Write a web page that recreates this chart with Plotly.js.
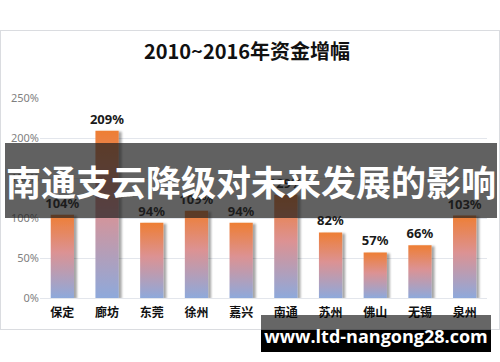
<!DOCTYPE html>
<html><head><meta charset="utf-8">
<script src="https://cdn.plot.ly/plotly-3.0.1.min.js"></script>
<style>
html,body{margin:0;padding:0;background:#fff;}
#wrap{position:relative;width:500px;height:362px;overflow:hidden;}
#frame{position:absolute;left:0;top:30px;width:500px;height:300px;box-sizing:border-box;border:1px solid #DADCE0;}
#chart{position:absolute;left:0;top:0;width:500px;height:362px;}
#banner{position:absolute;left:5px;top:143px;width:492px;height:75px;background:rgba(30,30,30,0.7);color:#fff;font-family:"Noto Sans CJK SC";font-weight:bold;font-size:35px;line-height:75px;text-align:center;white-space:nowrap;letter-spacing:0px;}
#wm{position:absolute;left:261px;top:315px;width:230px;height:37px;background:linear-gradient(to bottom,rgba(0,0,0,0.6) 0px,rgba(0,0,0,0.6) 15px,#000 15px,#000 37px);color:#fff;font-family:"Open Sans";font-weight:bold;font-size:18px;line-height:37px;text-align:center;white-space:nowrap;padding-top:3px;box-sizing:border-box;}
</style></head>
<body>
<div id="wrap">
  <div id="frame"></div>
  <div id="chart"></div>
  <div id="banner">南通支云降级对未来发展的影响</div>
  <div id="wm">www.ltd-nangong28.com</div>
</div>
<script>
const categories = ['保定','廊坊','东莞','徐州','嘉兴','南通','苏州','佛山','无锡','泉州'];
const growth = [104, 209, 94, 109, 94, 129, 82, 57, 66, 103];
const yTicks = [0, 50, 100, 150, 200, 250];
const chartTitle = '2010~2016年资金增幅';

const data = [{
  type: 'bar',
  x: categories,
  y: growth,
  marker: {color: '#ED7D31', line: {width: 0}},
  texttemplate: '%{y}%',
  textposition: 'outside',
  constraintext: 'none',
  textfont: {family: 'Noto Sans', size: 13, color: '#1a1a1a', weight: 'bold'},
  cliponaxis: false
}];

const layout = {
  width: 500, height: 362,
  margin: {l: 40, r: 13, t: 98, b: 64},
  paper_bgcolor: 'rgba(0,0,0,0)',
  plot_bgcolor: 'rgba(0,0,0,0)',
  showlegend: false,
  bargap: 0.48,
  title: {
    text: chartTitle,
    font: {family: 'Noto Sans CJK SC', size: 20, color: '#111', weight: 'bold'},
    x: 0.494, xanchor: 'center', y: 1 - 52/362, yanchor: 'middle'
  },
  xaxis: {
    type: 'category',
    tickfont: {family: 'Noto Sans CJK SC', size: 12, color: '#111', weight: 'bold'},
    ticklabelstandoff: 6,
    showline: false, ticks: '', showgrid: false, fixedrange: true
  },
  yaxis: {
    range: [0, 250],
    tickvals: yTicks,
    ticktext: yTicks.map(v => v + '%'),
    tickfont: {family: 'Noto Sans', size: 11, color: '#7F7F7F'},
    gridcolor: '#E3E6EC', gridwidth: 1,
    zeroline: true, zerolinecolor: '#E3E6EC', zerolinewidth: 1,
    showline: false, ticks: '', fixedrange: true
  }
};

Plotly.newPlot('chart', data, layout, {staticPlot: true, displayModeBar: false}).then(gd => {
  const ns = 'http://www.w3.org/2000/svg';
  const svg = gd.querySelector('svg.main-svg');
  let defs = svg.querySelector('defs');
  if (!defs) { defs = document.createElementNS(ns, 'defs'); svg.insertBefore(defs, svg.firstChild); }
  const grad = document.createElementNS(ns, 'linearGradient');
  grad.setAttribute('id', 'barGrad');
  grad.setAttribute('x1', '0'); grad.setAttribute('y1', '0');
  grad.setAttribute('x2', '0'); grad.setAttribute('y2', '1');
  [['0', '#EE7E34'], ['0.45', '#DC9293'], ['1', '#8EA9DB']].forEach(([o, c]) => {
    const s = document.createElementNS(ns, 'stop');
    s.setAttribute('offset', o); s.setAttribute('stop-color', c);
    grad.appendChild(s);
  });
  defs.appendChild(grad);
  const filt = document.createElementNS(ns, 'filter');
  filt.setAttribute('id', 'barShadow');
  filt.setAttribute('x', '-20%'); filt.setAttribute('y', '-5%');
  filt.setAttribute('width', '150%'); filt.setAttribute('height', '110%');
  const ds = document.createElementNS(ns, 'feDropShadow');
  ds.setAttribute('dx', '3'); ds.setAttribute('dy', '1');
  ds.setAttribute('stdDeviation', '1.2');
  ds.setAttribute('flood-color', '#000'); ds.setAttribute('flood-opacity', '0.35');
  filt.appendChild(ds);
  defs.appendChild(filt);
  gd.querySelectorAll('.bars .point path').forEach(p => {
    p.style.fill = 'url(#barGrad)';
    p.setAttribute('filter', 'url(#barShadow)');
  });
});
</script>
</body></html>
